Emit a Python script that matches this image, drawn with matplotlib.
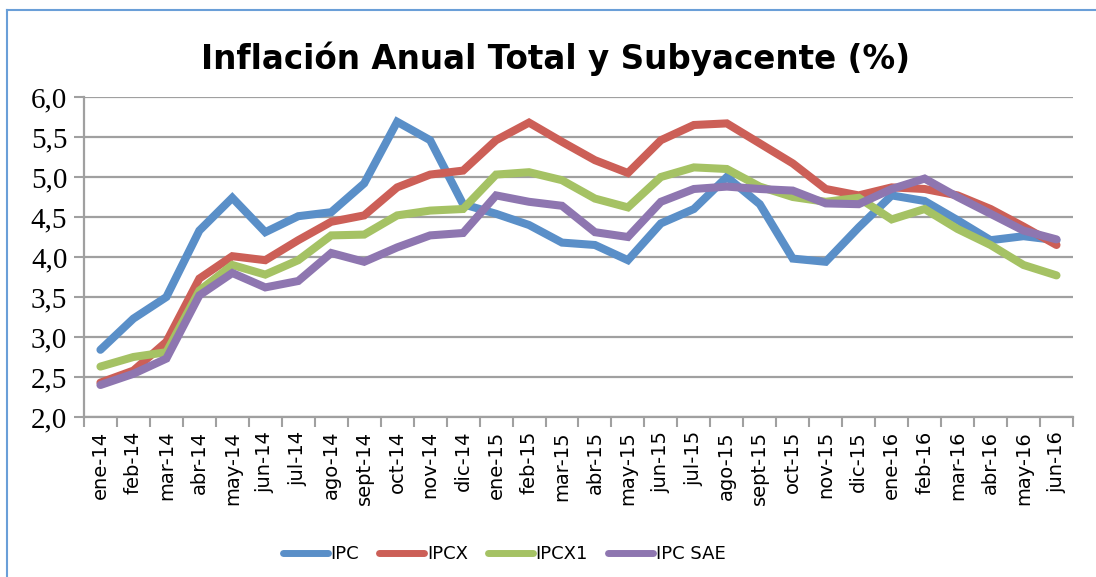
import matplotlib
matplotlib.use("Agg")
import matplotlib.pyplot as plt
from matplotlib.lines import Line2D
import numpy as np

meses = ["ene-14", "feb-14", "mar-14", "abr-14", "may-14", "jun-14", "jul-14", "ago-14",
         "sept-14", "oct-14", "nov-14", "dic-14", "ene-15", "feb-15", "mar-15", "abr-15",
         "may-15", "jun-15", "jul-15", "ago-15", "sept-15", "oct-15", "nov-15", "dic-15",
         "ene-16", "feb-16", "mar-16", "abr-16", "may-16", "jun-16"]

ipc = [2.84, 3.23, 3.50, 4.33, 4.74, 4.31, 4.51, 4.56, 4.92, 5.69,
       5.46, 4.66, 4.54, 4.40, 4.18, 4.15, 3.96, 4.42, 4.60, 5.00,
       4.66, 3.98, 3.94, 4.37, 4.77, 4.70, 4.46, 4.21, 4.26, 4.21]
ipcx = [2.43, 2.58, 2.94, 3.73, 4.01, 3.96, 4.21, 4.44, 4.52, 4.87,
        5.03, 5.08, 5.46, 5.68, 5.44, 5.21, 5.05, 5.46, 5.65, 5.67,
        5.42, 5.17, 4.85, 4.77, 4.87, 4.85, 4.77, 4.60, 4.38, 4.15]
ipcx1 = [2.63, 2.75, 2.81, 3.58, 3.90, 3.78, 3.96, 4.27, 4.28, 4.52,
         4.58, 4.60, 5.03, 5.06, 4.96, 4.73, 4.62, 5.00, 5.12, 5.10,
         4.88, 4.75, 4.69, 4.74, 4.47, 4.60, 4.35, 4.15, 3.90, 3.77]
ipc_sae = [2.40, 2.54, 2.73, 3.52, 3.80, 3.62, 3.70, 4.05, 3.94, 4.12,
           4.27, 4.30, 4.77, 4.69, 4.64, 4.31, 4.25, 4.69, 4.85, 4.88,
           4.85, 4.83, 4.67, 4.66, 4.85, 4.98, 4.75, 4.54, 4.33, 4.22]

series = [("IPC", ipc, "#5a8fc8"), ("IPCX", ipcx, "#cc5f57"),
          ("IPCX1", ipcx1, "#a5c264"), ("IPC SAE", ipc_sae, "#8e76b0")]

fig = plt.figure(figsize=(10.96, 5.77), dpi=100)
ax = fig.add_axes([0.0766, 0.2773, 0.9024, 0.5546])

x = np.arange(len(meses))
for nombre, vals, color in series:
    ax.plot(x, vals, color=color, lw=5.8, label=nombre, solid_capstyle="round",
            solid_joinstyle="miter")

ax.set_xlim(-0.5, len(meses) - 0.5)
ax.set_ylim(2.0, 6.0)
ax.set_yticks(np.arange(2.0, 6.01, 0.5))
ax.set_yticklabels([f"{v:.1f}".replace(".", ",") for v in np.arange(2.0, 6.01, 0.5)],
                   family="Liberation Serif", fontsize=21)
ax.set_xticks(x)
ax.set_xticklabels(meses, rotation=90, fontsize=14, family="DejaVu Sans")
ax.set_xticks(np.arange(-0.5, len(meses), 1), minor=True)
ax.tick_params(axis="x", which="major", length=0, pad=10)
ax.tick_params(axis="x", which="minor", length=7, width=1.5, color="#a0a0a0")
ax.tick_params(axis="y", length=7, width=1.5, color="#a0a0a0", pad=5)

ax.yaxis.grid(True, color="#a0a0a0", lw=1.6)
ax.set_axisbelow(True)
for s in ["top", "right"]:
    ax.spines[s].set_visible(False)
for s in ["left", "bottom"]:
    ax.spines[s].set_color("#a0a0a0")
    ax.spines[s].set_linewidth(1.6)

fig.text(0.507, 0.898, "Inflación Anual Total y Subyacente (%)", ha="center", va="center",
         fontsize=23.5, fontweight="bold", family="DejaVu Sans")

leg = fig.legend(loc="center", bbox_to_anchor=(0.46, 0.04), ncol=4, frameon=False,
                 fontsize=13, handlelength=2.5, handletextpad=0.15, columnspacing=1.1)
for h in leg.get_lines():
    h.set_linewidth(5)

# marco del grafico
fig.add_artist(Line2D([0.0064, 0.0064], [0.983, -0.1], color="#6a9fd8", lw=1.5,
                      transform=fig.transFigure))
fig.add_artist(Line2D([0.0064, 1.1], [0.983, 0.983], color="#6a9fd8", lw=1.5,
                      transform=fig.transFigure))

fig.savefig("out.png", dpi=100)
